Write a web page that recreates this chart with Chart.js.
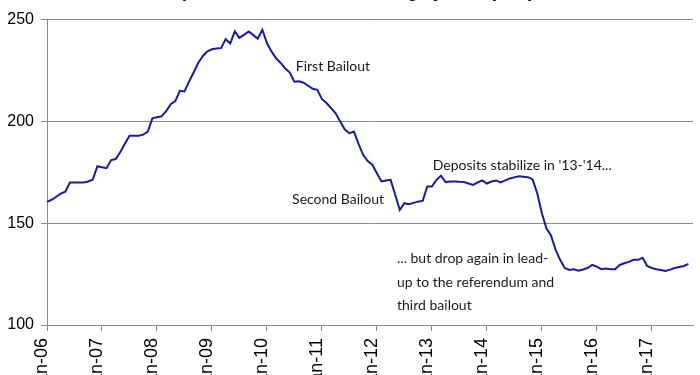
<!DOCTYPE html>
<html>
<head>
<meta charset="utf-8">
<script src="https://cdn.jsdelivr.net/npm/chart.js@4.4.0/dist/chart.umd.min.js"></script>
<style>
html, body { margin: 0; padding: 0; background: #fff; overflow: hidden; }
#wrap { position: absolute; left: 0; top: -20px; width: 700px; height: 410px; }
</style>
</head>
<body>
<div id="wrap"><canvas id="depChart"></canvas></div>
<script>
// deposits in the Greek banking system, EUR bn, monthly Jan-06 .. Sep-17
var months = ['Jan','Feb','Mar','Apr','May','Jun','Jul','Aug','Sep','Oct','Nov','Dec'];
var years = ['06','07','08','09','10','11','12','13','14','15','16','17'];

var dep06 = [160.5, 161.5, 163, 164.5, 165.5, 170, 170, 170, 170, 170.5, 171.5, 178];
var dep07 = [177.5, 177, 181, 181.5, 185, 189, 193, 193, 193, 193.5, 195, 201.5];
var dep08 = [202, 202.5, 205, 208.5, 210, 215, 214.7, 219.5, 224, 228.7, 232, 234.4];
var dep09 = [235.4, 235.8, 236, 240.4, 238.3, 244.2, 241, 242.5, 244.2, 242.5, 240.6, 245];
var dep10 = [238.5, 234.4, 231, 228.7, 226, 224, 219.5, 219.7, 219, 217.5, 216, 215.5];
var dep11 = [211, 209, 206.5, 204, 200, 196, 194.2, 195, 189, 183.6, 180.5, 178.7];
var dep12 = [174.5, 170.5, 171, 171.3, 164, 156.5, 159.8, 159.3, 160, 160.6, 161, 168];
var dep13 = [168, 171.3, 173.3, 170.2, 170.5, 170.5, 170.3, 170.2, 169.5, 168.8, 170, 171];
var dep14 = [169.5, 170.5, 171, 170, 171, 172, 172.5, 173, 172.8, 172.6, 171.5, 164.7];
var dep15 = [155, 147.5, 144, 137, 132, 128, 127, 127.4, 126.7, 127.3, 128, 129.5];
var dep16 = [128.7, 127.4, 127.8, 127.4, 127.4, 129.5, 130.3, 131, 132, 132, 133, 129];
var dep17 = [128, 127.4, 127, 126.5, 127.2, 128, 128.5, 129, 130];

var deposits = [].concat(dep06, dep07, dep08, dep09, dep10, dep11, dep12, dep13, dep14, dep15, dep16, dep17);

// one extra empty slot (Oct-17) so the axis runs a little past the last point
var labels = [];
years.forEach(function(y){
    months.forEach(function(m){
        labels.push(m + '-' + y);
    });
});
labels = labels.slice(0, deposits.length + 1);

var yTicks = [100, 150, 200, 250];

// text notes placed in data space: month index, value
var notes = [
    {lines: ['First Bailout'], i: 54.3, v: 226.9},
    {lines: ['Second Bailout'], i: 53.5, v: 161.7},
    {lines: ["Deposits stabilize in '13-'14..."], i: 84.2, v: 178.2},
    {lines: ['... but drop again in lead-', 'up to the referendum and', 'third bailout'], i: 76.4, v: 132.5}
];

var notesPlugin = {
    id: 'notes',
    afterDatasetsDraw: function(chart){
        var ctx = chart.ctx;
        var xs = chart.scales.x, ys = chart.scales.y;
        ctx.save();
        ctx.font = '14px Lato';
        ctx.fillStyle = '#1a1a1a';
        ctx.textAlign = 'left';
        ctx.textBaseline = 'middle';
        notes.forEach(function(n){
            var x = xs.getPixelForValue(n.i);
            var y = ys.getPixelForValue(n.v);
            n.lines.forEach(function(t, k){
                ctx.fillText(t, x, y + k * 23.5);
            });
        });
        ctx.restore();
    }
};

new Chart(document.getElementById('depChart'), {
    type: 'line',
    data: {
        labels: labels,
        datasets: [{
            label: 'Deposits',
            data: deposits,
            borderColor: '#1a1aa2',
            borderWidth: 2,
            backgroundColor: 'transparent',
            pointRadius: 0,
            tension: 0
        }]
    },
    options: {
        responsive: true,
        maintainAspectRatio: false,
        animation: false,
        layout: { padding: { left: 0, right: 7, top: 0, bottom: 0 } },
        plugins: {
            legend: { display: false },
            tooltip: { enabled: false },
            title: {
                display: true,
                text: 'Deposits in the Greek banking system (€bn)',
                color: '#000',
                font: { family: 'Liberation Sans', size: 18, weight: 'bold' },
                padding: { top: 1, bottom: 17 }
            }
        },
        scales: {
            x: {
                type: 'category',
                offset: false,
                grid: {
                    drawOnChartArea: false,
                    drawTicks: true,
                    tickLength: 6,
                    color: '#8a8a8a'
                },
                border: { color: '#8a8a8a' },
                ticks: {
                    autoSkip: false,
                    minRotation: 90,
                    maxRotation: 90,
                    padding: 7,
                    labelOffset: -5,
                    color: '#000',
                    font: { family: 'Liberation Sans', size: 18 },
                    callback: function(val, idx){
                        var l = labels[idx];
                        return l.indexOf('Jan') === 0 ? l : null;
                    }
                },
                afterFit: function(scale){ scale.height = 65; }
            },
            y: {
                min: 100,
                max: 250,
                afterBuildTicks: function(scale){
                    scale.ticks = yTicks.map(function(v){ return {value: v}; });
                },
                grid: {
                    color: '#8a8a8a',
                    tickLength: 6
                },
                border: { color: '#8a8a8a' },
                ticks: {
                    padding: 7,
                    color: '#000',
                    font: { family: 'Liberation Sans', size: 16 }
                },
                afterFit: function(scale){ scale.width = 47; }
            }
        }
    },
    plugins: [notesPlugin]
});
</script>
</body>
</html>
